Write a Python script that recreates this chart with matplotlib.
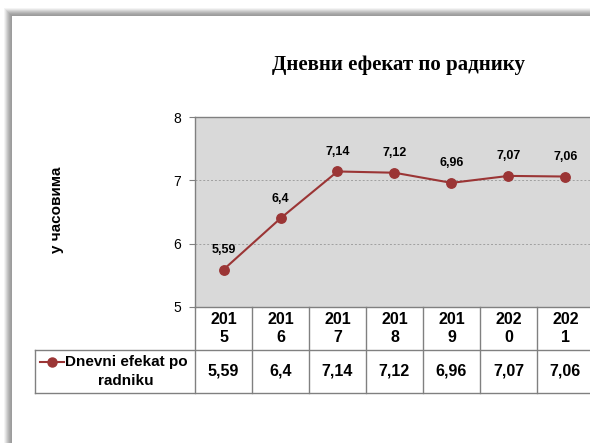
import numpy as np
import matplotlib.pyplot as plt
from matplotlib.patches import Rectangle
from matplotlib.lines import Line2D
import matplotlib.transforms as mtransforms

# Data
years = ["2015", "2016", "2017", "2018", "2019", "2020", "2021"]
values = [5.59, 6.4, 7.14, 7.12, 6.96, 7.07, 7.06]
value_labels = ["5,59", "6,4", "7,14", "7,12", "6,96", "7,07", "7,06"]
series_name = "Dnevni efekat po\nradniku"
title = "Дневни ефекат по раднику"
ylabel = "у часовима"
yticks = [5, 6, 7, 8]

W, H = 590, 443
fig = plt.figure(figsize=(W / 100, H / 100), dpi=100)
fig.patch.set_facecolor("white")

def fx(px):
    return px / W

def fy(py):
    return 1 - py / H

# Frame with a soft gray shadow on the left and top edges
shades = ["#f4f4f4", "#e6e6e6", "#d6d6d6", "#c6c6c6", "#b8b8b8", "#ababab", "#a2a2a2", "#9c9c9c"]
for k, c in enumerate(shades):
    x0, y0 = 4 + k, 8 + k
    fig.patches.append(Rectangle((fx(x0), 0), 1.1, fy(y0), transform=fig.transFigure,
                                 facecolor=c, edgecolor="none", zorder=-10))
fig.patches.append(Rectangle((fx(12), 0), 1.1, fy(16), transform=fig.transFigure,
                             facecolor="white", edgecolor="none", zorder=-10))

# Plot area
left, right, top, bottom = 195, 195 + 7 * 57, 117, 307
ax = fig.add_axes([fx(left), fy(bottom), fx(right - left), (bottom - top) / H])
ax.set_zorder(5)
ax.set_facecolor("#d9d9d9")
x = np.arange(len(years))
line_color = "#9b3535"
ax.plot(x, values, color=line_color, linewidth=1.5, marker="o", markersize=6.8, zorder=3)
for xi, v, lab in zip(x, values, value_labels):
    ax.annotate(lab, (xi, v), xytext=(0, 14), textcoords="offset points",
                ha="center", va="center", fontsize=9, fontweight="bold",
                family="Liberation Sans", color="black")

ax.set_xlim(-0.5, len(years) - 0.5)
ax.set_ylim(5, 8)
ax.set_yticks(yticks)
ax.set_yticklabels([str(t) for t in yticks], family="Liberation Sans", fontsize=10)
ax.set_xticks([])
ax.tick_params(axis="y", direction="out", length=4, color="#808080", pad=6)
for yt in [6, 7]:
    ax.axhline(yt, color="#a0a0a0", linewidth=0.7, linestyle=(0, (2, 2)), zorder=1)
for side in ["left", "top"]:
    ax.spines[side].set_color("#808080")
    ax.spines[side].set_linewidth(1.0)
ax.spines["right"].set_visible(False)
ax.spines["bottom"].set_visible(False)

# Data table beneath the plot
trans = mtransforms.blended_transform_factory(ax.transData, ax.transAxes)
ph = bottom - top
h1 = 43 / ph
h2 = 86 / ph
grid_kw = dict(color="#808080", linewidth=1.0, transform=trans, clip_on=False)
leg_left = (35 - left) / 57 - 0.5
for xi in range(len(years) + 1):
    ax.add_line(Line2D([xi - 0.5, xi - 0.5], [0, -h2], **grid_kw))
ax.add_line(Line2D([-0.5, len(years) - 0.5], [0, 0], **grid_kw))
ax.add_line(Line2D([leg_left, len(years) - 0.5], [-h1, -h1], **grid_kw))
ax.add_line(Line2D([leg_left, len(years) - 0.5], [-h2, -h2], **grid_kw))
ax.add_line(Line2D([leg_left, leg_left], [-h1, -h2], **grid_kw))

for xi, yr, lab in zip(x, years, value_labels):
    ax.text(xi, -h1 / 2, yr[:3] + "\n" + yr[3:], transform=trans, ha="center", va="center",
            fontsize=11.5, fontweight="bold", family="Liberation Sans", linespacing=1.2)
    ax.text(xi, -(h1 + h2) / 2, lab, transform=trans, ha="center", va="center",
            fontsize=11.5, fontweight="bold", family="Liberation Sans")

# legend key in the table's row header
key_y = -(362 - bottom) / ph
ax.add_line(Line2D([(40 - left) / 57 - 0.5, (64 - left) / 57 - 0.5], [key_y] * 2,
                   color=line_color, linewidth=1.5, transform=trans, clip_on=False))
ax.add_line(Line2D([(52 - left) / 57 - 0.5], [key_y], color=line_color, marker="o",
                   markersize=6.5, transform=trans, clip_on=False))
ax.text((126 - left) / 57 - 0.5, -(h1 + h2) / 2, series_name, transform=trans, ha="center",
        va="center", fontsize=11, fontweight="bold", family="Liberation Sans", linespacing=1.45)

fig.text(fx(398), fy(65), title, ha="center", va="center", fontsize=15, fontweight="bold",
         family="Liberation Serif")
fig.text(fx(57), fy(210), ylabel, ha="center", va="center", rotation=90, fontsize=11,
         fontweight="bold", family="Liberation Sans")

fig.savefig("out.png", dpi=100)
